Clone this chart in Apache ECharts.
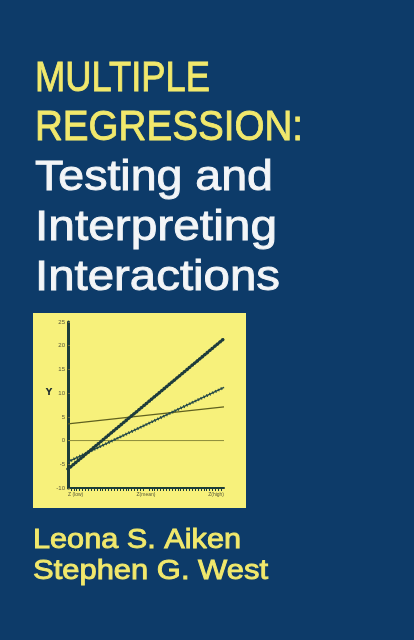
<!DOCTYPE html>
<html>
<head>
<meta charset="utf-8">
<script src="https://cdn.jsdelivr.net/npm/echarts@6/dist/echarts.min.js"></script>
<style>
html,body{margin:0;padding:0;background:#0d3b69;}
#c{width:414px;height:640px;}
</style>
</head>
<body>
<div id="c"></div>
<script>
// ---- data ----
var xVals = [-1, 1];
var xTickLabels = {'-1': 'Z (low)', '0': 'Z(mean)', '1': 'Z(high)'};
var steepLine = [-6, 21.5];
var crossLine = [-4.5, 11.2];
var thinLine = [3.5, 7.1];
var zeroLine = [0, 0];
var yMin = -10, yMax = 25, yStep = 5;
var yAxisTitle = 'Y';
var yAxisTitleLevel = 10;
var titleLines = ['MULTIPLE', 'REGRESSION:', 'Testing and', 'Interpreting', 'Interactions'];
var authorLines = ['Leona S. Aiken', 'Stephen G. West'];

function pairs(v) { return xVals.map(function (x, i) { return [x, v[i]]; }); }

var ctx = document.createElement('canvas').getContext('2d');
function fitScale(text, size, target) {
  ctx.font = size + 'px "Liberation Sans"';
  return target / ctx.measureText(text).width;
}

var titleSpecs = [
  {t: titleLines[0], y: 79, w: 175, c: '#f1e86c', s: 43},
  {t: titleLines[1], y: 128.5, w: 268, c: '#f1e86c', s: 43},
  {t: titleLines[2], y: 178.5, w: 238, c: '#f3f5f7', s: 43},
  {t: titleLines[3], y: 228.5, w: 242, c: '#f3f5f7', s: 43},
  {t: titleLines[4], y: 278.5, w: 245, c: '#f3f5f7', s: 43}
];
var authorSpecs = [
  {t: authorLines[0], y: 540, w: 208, c: '#f1e86c', s: 28},
  {t: authorLines[1], y: 571, w: 235, c: '#f1e86c', s: 28}
];

var graphics = [{
  type: 'rect', z: -10, silent: true,
  shape: {x: 33, y: 313, width: 213, height: 195},
  style: {fill: '#f7f17b'}
}];
titleSpecs.concat(authorSpecs).forEach(function (s) {
  graphics.push({
    type: 'text', x: s.s > 30 ? 35 : 33, y: s.y, scaleX: fitScale(s.t, s.s, s.w),
    style: {text: s.t, fill: s.c, stroke: s.c, lineWidth: 0.9,
      font: s.s + 'px "Liberation Sans"', align: 'left', verticalAlign: 'middle'}
  });
});

var chart = echarts.init(document.getElementById('c'));
chart.setOption({
  backgroundColor: '#0d3b69',
  animation: false,
  grid: {left: 68, right: 190, top: 322, bottom: 152},
  graphic: graphics,
  xAxis: {
    type: 'value', min: -1, max: 1, interval: 1,
    axisLine: {onZero: false, lineStyle: {color: '#1d3d3a', width: 2}},
    axisTick: {show: false},
    minorTick: {show: true, splitNumber: 27, length: 3, lineStyle: {color: '#1d3d3a', width: 1}},
    splitLine: {show: false},
    axisLabel: {
      fontSize: 5, color: '#5a5a3a', margin: 4,
      fontFamily: 'Liberation Sans',
      formatter: function (v) { return xTickLabels[String(v)] || ''; },
      alignMinLabel: 'left', alignMaxLabel: 'right'
    }
  },
  yAxis: {
    type: 'value', min: yMin, max: yMax, interval: yStep,
    axisLine: {onZero: false, lineStyle: {color: '#1d3d3a', width: 3}},
    axisTick: {show: true, inside: true, length: 2, lineStyle: {color: '#6a6a3a', width: 1}},
    splitLine: {show: false},
    axisLabel: {fontSize: 6, color: '#5a5a3a', margin: 3, fontFamily: 'Liberation Sans'}
  },
  series: [
    {type: 'line', data: pairs(zeroLine), symbol: 'none', lineStyle: {color: '#8a8a3a', width: 1}},
    {type: 'line', data: pairs(thinLine), symbol: 'none', lineStyle: {color: '#5f6020', width: 1.3}},
    {type: 'line', data: pairs(crossLine), symbol: 'none', lineStyle: {color: '#234848', width: 1.4}},
    {type: 'line', data: pairs(crossLine), symbol: 'none', lineStyle: {color: '#234848', width: 3, type: [1, 2.2]}},
    {type: 'line', data: pairs(steepLine), symbol: 'none', lineStyle: {color: '#1e3c3c', width: 1.6}},
    {type: 'line', data: pairs(steepLine), symbol: 'none', lineStyle: {color: '#1e3c3c', width: 3.4, type: [0.3, 3], cap: 'round'}}
  ]
});

// Y axis title placed at the level of the tick value via the chart's own scale
var yPix = chart.convertToPixel({gridIndex: 0}, [xVals[0], yAxisTitleLevel]);
graphics.push({
  type: 'text', x: 49, y: yPix[1],
  style: {text: yAxisTitle, fill: '#1b2a30', font: 'bold 9px "DejaVu Sans"', align: 'center', verticalAlign: 'middle'}
});
chart.setOption({graphic: graphics}, {replaceMerge: ['graphic']});
</script>
</body>
</html>
